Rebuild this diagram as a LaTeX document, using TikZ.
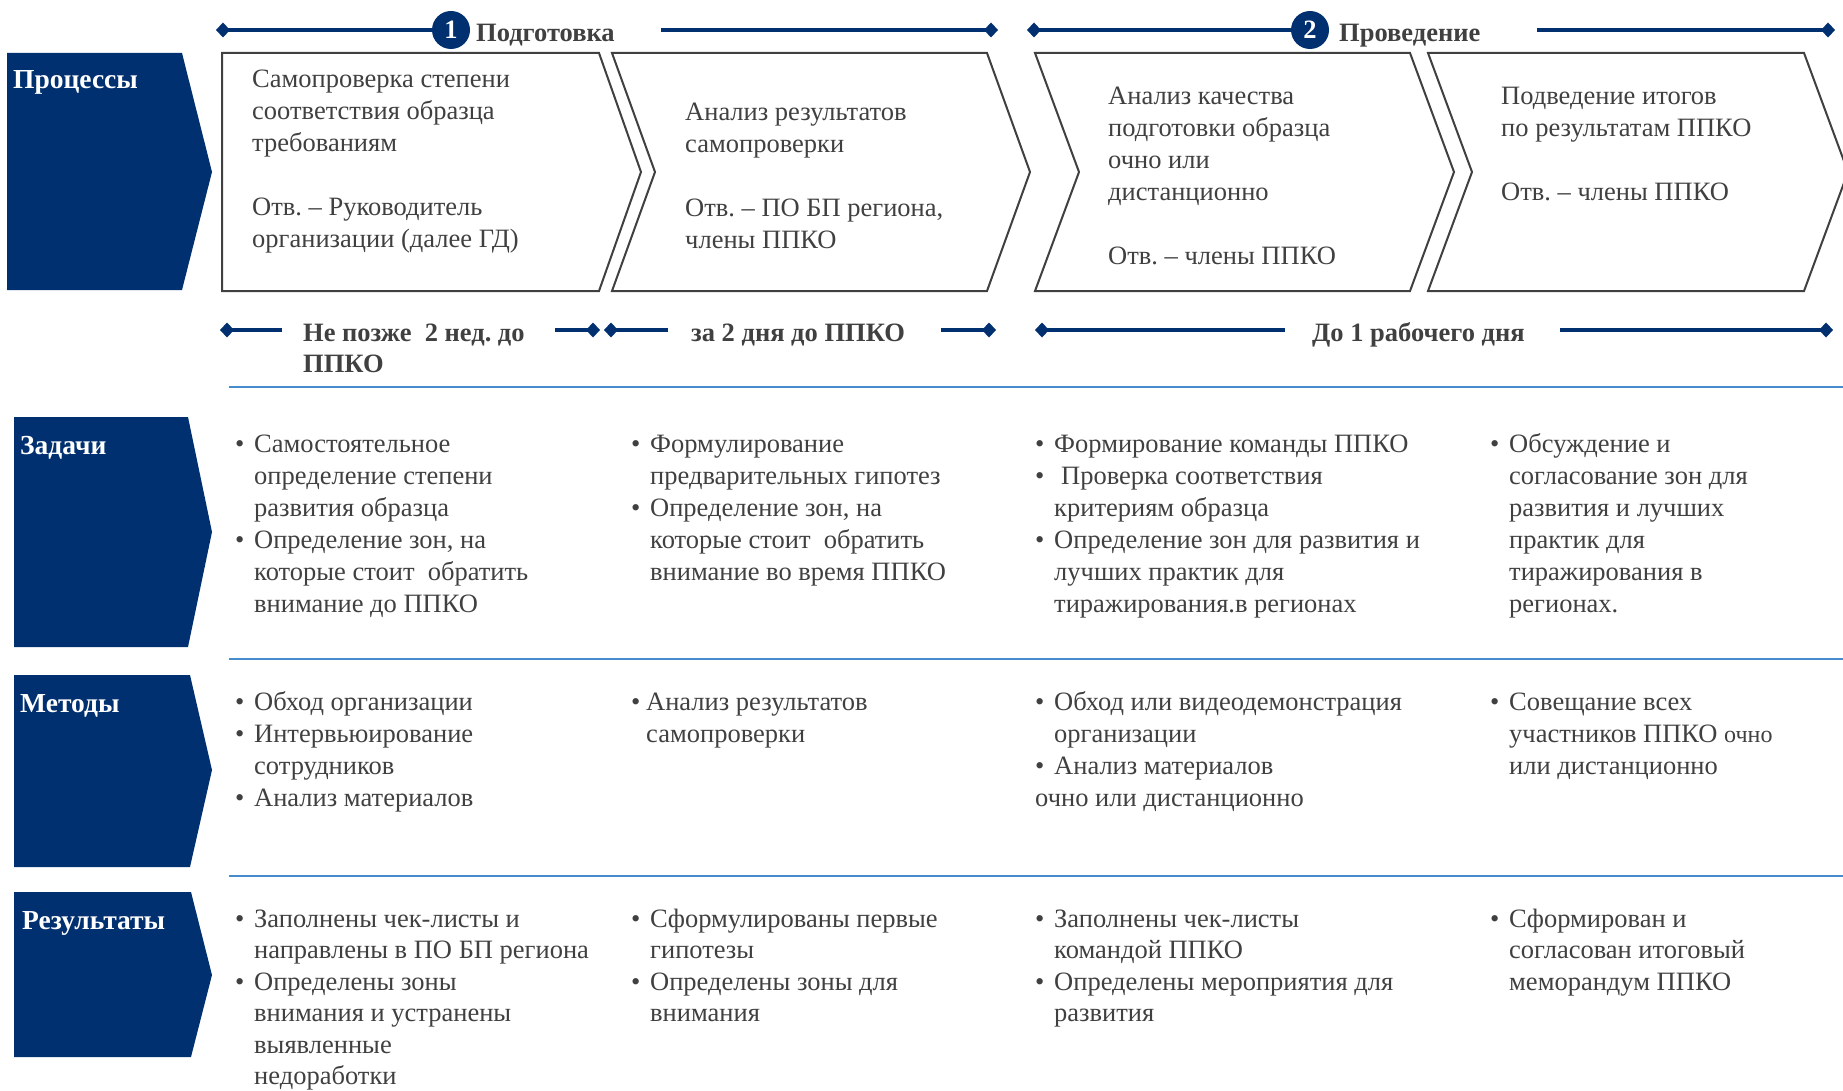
\documentclass[tikz,border=0pt]{standalone}
\usepackage{fontspec}
\setmainfont{Liberation Serif}
\usetikzlibrary{positioning}
\usetikzlibrary{arrows.meta}

\definecolor{navy}{RGB}{0,48,112}
\definecolor{txtgray}{RGB}{64,64,64}
\definecolor{sepblue}{RGB}{70,140,205}

\newcommand{\bl}{\makebox[19pt][l]{\textbullet}}
\newcommand{\ind}{\hspace*{19pt}}

\tikzset{
  body/.style={anchor=base west, align=flush left, text width=430pt, inner sep=0pt, text=txtgray, font=\fontsize{26.5}{32}\selectfont\frenchspacing},
  hdr/.style={anchor=base west, align=flush left, text width=300pt, inner sep=0pt, text=txtgray, font=\fontsize{26.5}{31}\selectfont\bfseries\frenchspacing},
  rowlabel/.style={anchor=base west, inner sep=0pt, text=white, font=\fontsize{27.5}{32}\selectfont\bfseries},
  chev/.style={draw=txtgray, line width=2pt, fill=white},
  tline/.style={navy, line width=4.5pt, >={Diamond[length=14pt,width=15pt,line width=0pt]}},
  sepline/.style={sepblue, line width=2.5pt},
  num/.style={circle, fill=navy, text=white, minimum size=38pt, inner sep=0pt, font=\fontsize{26.5}{30}\selectfont\bfseries}
}

\begin{document}
\begin{tikzpicture}[x=1pt,y=-1pt]
\useasboundingbox (0,0) rectangle (1843,1091);

%row labels
\fill[navy] (7,53) -- (182,53) -- (212,172) -- (182,290) -- (7,290) -- cycle;
\fill[navy] (14,417) -- (188,417) -- (212,532) -- (188,647) -- (14,647) -- cycle;
\fill[navy] (14,675) -- (190,675) -- (212,770) -- (190,867) -- (14,867) -- cycle;
\fill[navy] (14,892) -- (191,892) -- (212,975) -- (191,1057) -- (14,1057) -- cycle;
\node[rowlabel] (lproc) at (13,89) {Процессы};
\node[rowlabel] (ltask) at (20,454) {Задачи};
\node[rowlabel] (lmeth) at (20,712) {Методы};
\node[rowlabel] (lres) at (22,929) {Результаты};

%top timeline
\node[num] (n1) at (451,30) {1};
\node[hdr] (ph1) at (476,42) {Подготовка};
\node[num] (n2) at (1310,30) {2};
\node[hdr] (ph2) at (1339,42) {Проведение};
\coordinate (t1) at (216,30);
\coordinate (t2) at (661,30);
\coordinate (t3) at (998,30);
\coordinate (t4) at (1027,30);
\coordinate (t5) at (1537,30);
\coordinate (t6) at (1835,30);
\draw[tline,<-] (t1) -- (n1.west);
\draw[tline,->] (t2) -- (t3);
\draw[tline,<-] (t4) -- (n2.west);
\draw[tline,->] (t5) -- (t6);

%chevrons
\draw[chev] (222,53) -- (599,53) -- (641,172) -- (599,291) -- (222,291) -- cycle;
\draw[chev] (612,53) -- (987,53) -- (1030,172) -- (987,291) -- (612,291) -- (655,172) -- cycle;
\draw[chev] (1035,53) -- (1410,53) -- (1454,172) -- (1410,291) -- (1035,291) -- (1079,172) -- cycle;
\draw[chev] (1428,53) -- (1804,53) -- (1848,172) -- (1804,291) -- (1428,291) -- (1472,172) -- cycle;
\node[body] (pr1) at (252,88) {Самопроверка степени\\соответствия образца\\требованиям\\[32pt]Отв. – Руководитель\\организации (далее ГД)};
\node[body] (pr2) at (685,121) {Анализ результатов\\самопроверки\\[32pt]Отв. – ПО БП региона,\\члены ППКО};
\node[body] (pr3) at (1108,105) {Анализ качества\\подготовки образца\\очно или\\дистанционно\\[32pt]Отв. – члены ППКО};
\node[body] (pr4) at (1501,105) {Подведение итогов\\по результатам ППКО\\[32pt]Отв. – члены ППКО};

%bottom timeline
\node[hdr] (d1) at (303,341) {Не позже\ \ 2 нед. до\\ППКО};
\node[hdr] (d2) at (691,341) {за 2 дня до ППКО};
\node[hdr] (d3) at (1312,341) {До 1 рабочего дня};
\coordinate (b1) at (220,330);
\coordinate (b2) at (282,330);
\coordinate (b3) at (555,330);
\coordinate (b4) at (600,330);
\coordinate (b5) at (604,330);
\coordinate (b6) at (668,330);
\coordinate (b7) at (941,330);
\coordinate (b8) at (996,330);
\coordinate (b9) at (1035,330);
\coordinate (b10) at (1285,330);
\coordinate (b11) at (1560,330);
\coordinate (b12) at (1833,330);
\draw[tline,<-] (b1) -- (b2);
\draw[tline,->] (b3) -- (b4);
\draw[tline,<-] (b5) -- (b6);
\draw[tline,->] (b7) -- (b8);
\draw[tline,<-] (b9) -- (b10);
\draw[tline,->] (b11) -- (b12);

%separators
\draw[sepline] (229,387) -- (1843,387);
\draw[sepline] (229,659) -- (1843,659);
\draw[sepline] (229,876) -- (1843,876);

%tasks
\node[body] (z1) at (235,452) {\bl Самостоятельное\\\ind определение степени\\\ind развития образца\\\bl Определение зон, на\\\ind которые стоит\ \ обратить\\\ind внимание до ППКО};
\node[body] (z2) at (631,452) {\bl Формулирование\\\ind предварительных гипотез\\\bl Определение зон, на\\\ind которые стоит\ \ обратить\\\ind внимание во время ППКО};
\node[body] (z3) at (1035,452) {\bl Формирование команды ППКО\\\bl\hspace{7pt}Проверка соответствия\\\ind критериям образца\\\bl Определение зон для развития и\\\ind лучших практик для\\\ind тиражирования.в регионах};
\node[body] (z4) at (1490,452) {\bl Обсуждение и\\\ind согласование зон для\\\ind развития и лучших\\\ind практик для\\\ind тиражирования в\\\ind регионах.};

%methods
\node[body] (m1) at (235,710) {\bl Обход организации\\\bl Интервьюирование\\\ind сотрудников\\\bl Анализ материалов};
\node[body] (m2) at (631,710) {\makebox[15pt][l]{\textbullet}Анализ результатов\\\hspace*{15pt}самопроверки};
\node[body] (m3) at (1035,710) {\bl Обход или видеодемонстрация\\\ind организации\\\bl Анализ материалов\\очно или дистанционно};
\node[body] (m4) at (1490,710) {\bl Совещание всех\\\ind участников ППКО {\fontsize{24}{32}\selectfont очно}\\\ind или дистанционно};

%results
\node[body, font=\fontsize{26.5}{31.5}\selectfont\frenchspacing] (r1) at (235,927) {\bl Заполнены чек-листы и\\\ind направлены в ПО БП региона\\\bl Определены зоны\\\ind внимания и устранены\\\ind выявленные\\\ind недоработки};
\node[body, font=\fontsize{26.5}{31.5}\selectfont\frenchspacing] (r2) at (631,927) {\bl Сформулированы первые\\\ind гипотезы\\\bl Определены зоны для\\\ind внимания};
\node[body, font=\fontsize{26.5}{31.5}\selectfont\frenchspacing] (r3) at (1035,927) {\bl Заполнены чек-листы\\\ind командой ППКО\\\bl Определены мероприятия для\\\ind развития};
\node[body, font=\fontsize{26.5}{31.5}\selectfont\frenchspacing] (r4) at (1490,927) {\bl Сформирован и\\\ind согласован итоговый\\\ind меморандум ППКО};

\end{tikzpicture}
\end{document}
